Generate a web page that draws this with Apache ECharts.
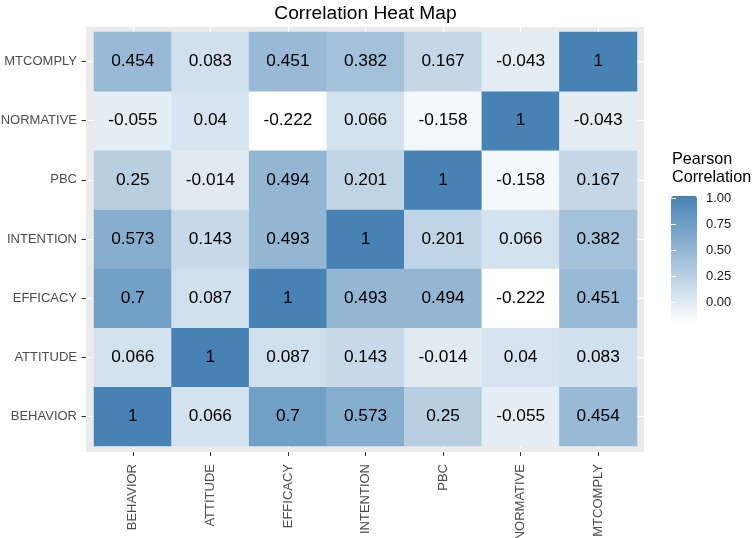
<!DOCTYPE html>
<html><head><meta charset="utf-8">
<script src="https://cdn.jsdelivr.net/npm/echarts@6/dist/echarts.min.js"></script>
<style>html,body{margin:0;padding:0;background:#fff;}#c{width:753px;height:538px;}</style>
</head><body><div id="c"></div>
<script>
const titleText = 'Correlation Heat Map';
const legendTitle = 'Pearson\nCorrelation';
const vars = ['BEHAVIOR','ATTITUDE','EFFICACY','INTENTION','PBC','NORMATIVE','MTCOMPLY'];
const rowBEHAVIOR  = [1, 0.066, 0.7, 0.573, 0.25, -0.055, 0.454];
const rowATTITUDE  = [0.066, 1, 0.087, 0.143, -0.014, 0.04, 0.083];
const rowEFFICACY  = [0.7, 0.087, 1, 0.493, 0.494, -0.222, 0.451];
const rowINTENTION = [0.573, 0.143, 0.493, 1, 0.201, 0.066, 0.382];
const rowPBC       = [0.25, -0.014, 0.494, 0.201, 1, -0.158, 0.167];
const rowNORMATIVE = [-0.055, 0.04, -0.222, 0.066, -0.158, 1, -0.043];
const rowMTCOMPLY  = [0.454, 0.083, 0.451, 0.382, 0.167, -0.043, 1];
const legendTicks = [0, 0.25, 0.5, 0.75, 1];

const rows = [rowBEHAVIOR,rowATTITUDE,rowEFFICACY,rowINTENTION,rowPBC,rowNORMATIVE,rowMTCOMPLY];
const data = [];
rows.forEach((r, yi) => r.forEach((v, xi) => data.push([xi, yi, v])));
let vmin = Infinity, vmax = -Infinity;
data.forEach(d => { vmin = Math.min(vmin, d[2]); vmax = Math.max(vmax, d[2]); });

const FONT = 'Liberation Sans, Arial, sans-serif';
const chart = echarts.init(document.getElementById('c'), null, {renderer: 'canvas'});
chart.setOption({
  backgroundColor: '#ffffff',
  animation: false,
  title: {text: titleText, left: 360.5, top: -1, textAlign: 'center',
    textStyle: {fontFamily: FONT, fontSize: 19.2, fontWeight: 'normal', color: '#000'}},
  graphic: [
    {type: 'rect', shape: {x: 86, y: 27, width: 558, height: 425}, style: {fill: '#ebebeb'}, z: -10, silent: true},
    {type: 'text', left: 672, top: 150, style: {text: legendTitle, fontFamily: FONT, fontSize: 16.2, lineHeight: 18.5, fill: '#000'}}
  ],
  grid: [
    {left: 94, top: 32, width: 543, height: 414, containLabel: false, outerBoundsMode: 'none'},
    {left: 86, top: 27, width: 558, height: 425, containLabel: false, outerBoundsMode: 'none'},
    {left: 671, top: 198, width: 26, height: 127, containLabel: false, outerBoundsMode: 'none'}
  ],
  xAxis: [
    {type: 'category', gridIndex: 0, data: vars, position: 'bottom', offset: 6,
      axisLine: {show: false}, splitLine: {show: false},
      axisTick: {show: true, alignWithLabel: true, length: 4, lineStyle: {color: '#333', width: 1}},
      axisLabel: {rotate: 90, margin: 12, color: '#4d4d4d', fontFamily: FONT, fontSize: 13}},
    {type: 'value', gridIndex: 1, min: -0.5 - 8/77.57, max: 6.5 + 7/77.57,
      axisLine: {show: false}, axisLabel: {show: false},
      axisTick: {show: false, customValues: [0,1,2,3,4,5,6]},
      splitLine: {show: true, lineStyle: {color: '#ffffff', width: 1}}},
    {type: 'value', gridIndex: 2, min: 0, max: 1, show: false}
  ],
  yAxis: [
    {type: 'category', gridIndex: 0, data: vars, position: 'left', offset: 8,
      axisLine: {show: false}, splitLine: {show: false},
      axisTick: {show: true, alignWithLabel: true, length: 4.5, lineStyle: {color: '#333', width: 1}},
      axisLabel: {margin: 9, color: '#4d4d4d', fontFamily: FONT, fontSize: 13}},
    {type: 'value', gridIndex: 1, min: -0.5 - 6/59.14, max: 6.5 + 5/59.14,
      axisLine: {show: false}, axisLabel: {show: false},
      axisTick: {show: false, customValues: [0,1,2,3,4,5,6]},
      splitLine: {show: true, lineStyle: {color: '#ffffff', width: 1}}},
    {type: 'value', gridIndex: 2, min: vmin, max: vmax, position: 'right',
      axisLine: {show: false}, splitLine: {show: false},
      axisTick: {show: true, inside: true, length: 5, customValues: legendTicks, lineStyle: {color: '#ffffff', width: 1}},
      axisLabel: {show: true, customValues: legendTicks, margin: 9, color: '#1a1a1a', fontFamily: FONT, fontSize: 13,
        formatter: v => Number(v).toFixed(2)}, z: 10},
    {type: 'value', gridIndex: 2, min: vmin, max: vmax, position: 'left',
      axisLine: {show: false}, splitLine: {show: false}, axisLabel: {show: false},
      axisTick: {show: true, inside: true, length: 5, customValues: legendTicks, lineStyle: {color: '#ffffff', width: 1}}, z: 10}
  ],
  visualMap: {
    type: 'continuous', min: vmin, max: vmax, calculable: false, seriesIndex: 0,
    left: 671, top: 196, itemWidth: 26, itemHeight: 128, padding: 0, text: null, showLabel: false,
    inRange: {color: ['#ffffff', '#4682b4']}, hoverLink: false
  },
  series: [{
    type: 'heatmap', xAxisIndex: 0, yAxisIndex: 0, data: data,
    label: {show: true, color: '#000', fontFamily: FONT, fontSize: 17.3,
      formatter: p => String(p.value[2])},
    itemStyle: {borderWidth: 0}
  }]
});
</script></body></html>
